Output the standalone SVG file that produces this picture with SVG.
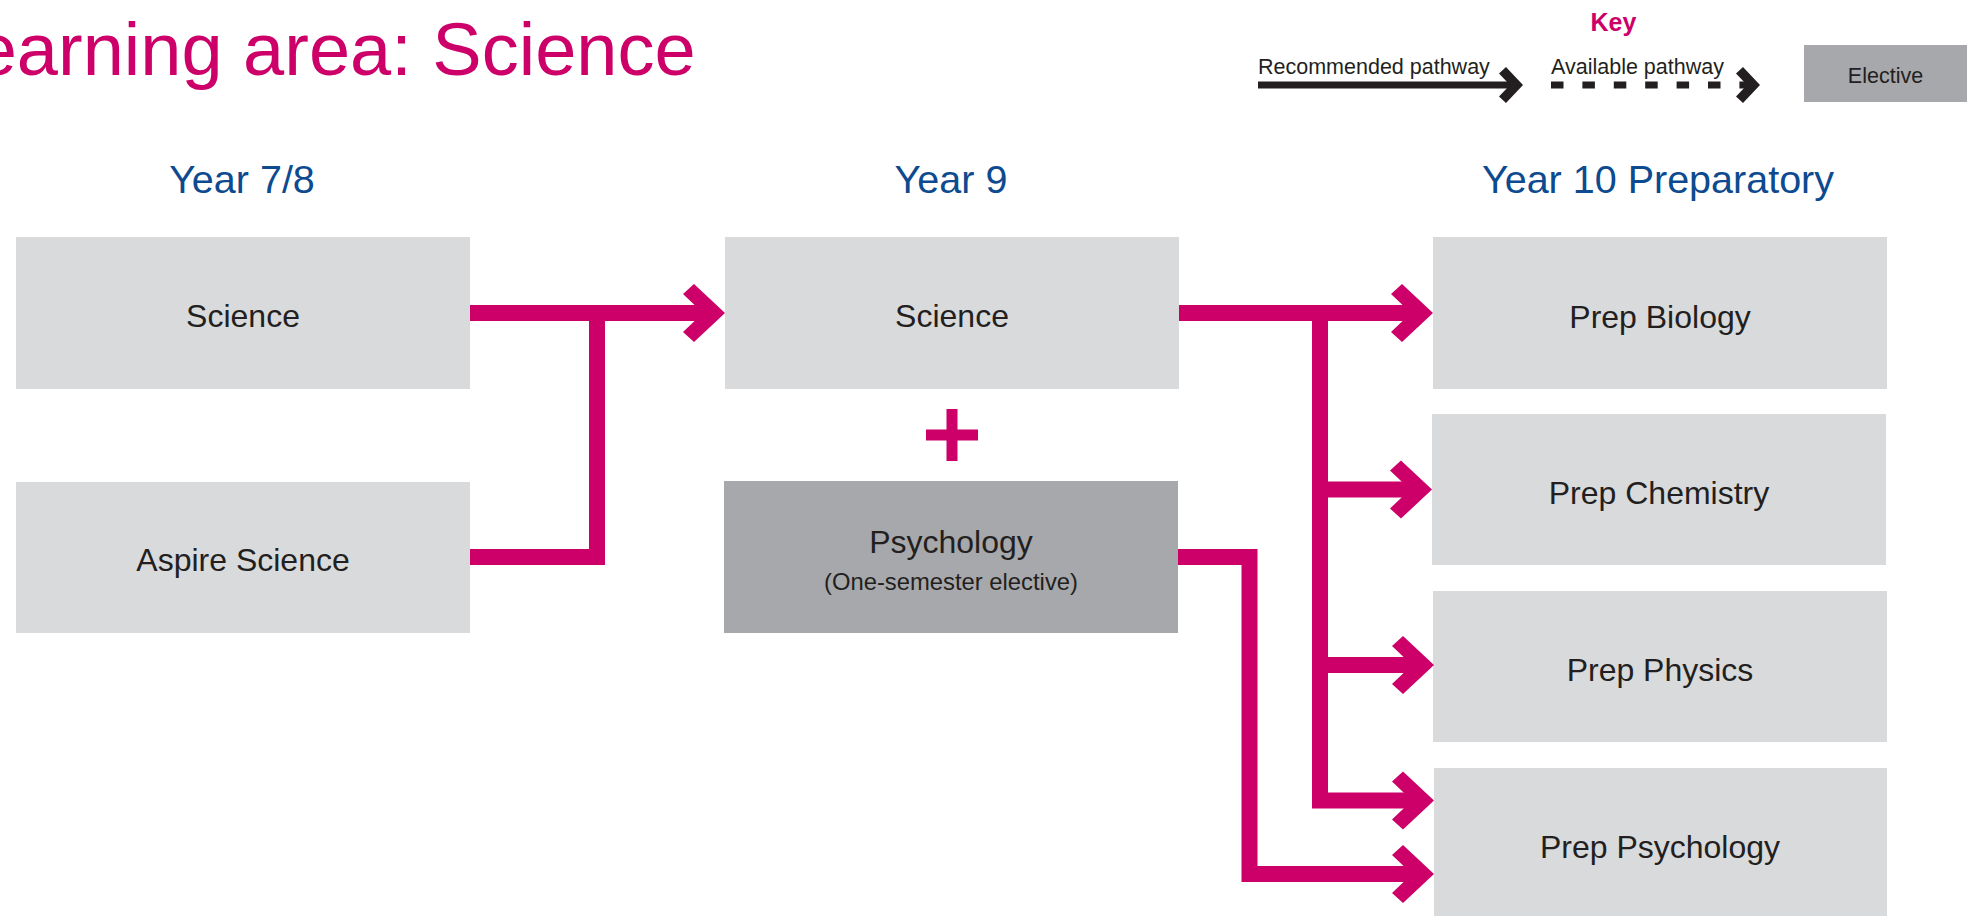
<svg xmlns="http://www.w3.org/2000/svg" xmlns:xlink="http://www.w3.org/1999/xlink" width="1975" height="916" viewBox="0 0 1975 916">
  <style>
    text { font-family: "Liberation Sans", Arial, Helvetica, sans-serif; }
    .title { font-size: 74px; fill: #cc0068; }
    .hdr { font-size: 39.5px; fill: #0d4a8f; text-anchor: middle; }
    .box { fill: #d9dadc; }
    .elective { fill: #a7a8ab; }
    .lbl { font-size: 32px; fill: #231f20; text-anchor: middle; }
    .sub { font-size: 23.8px; fill: #231f20; text-anchor: middle; }
    .key { font-size: 25px; font-weight: bold; fill: #cc0068; text-anchor: middle; }
    .klbl { font-size: 21.5px; fill: #231f20; }
    .conn { fill: none; stroke: #cc0068; stroke-width: 16; stroke-linejoin: miter; stroke-linecap: butt; }
    .kline { fill: none; stroke: #231f20; stroke-width: 7; stroke-linecap: butt; }
  </style>
  <defs>
    <marker id="arrow" markerUnits="userSpaceOnUse" viewBox="-44 -30 46 60" markerWidth="46" markerHeight="60" refX="-15" refY="0" orient="auto" overflow="visible">
      <path d="M0 0 L-31 -29 L-42 -19 L-22 0 L-42 19 L-31 29 Z" fill="#cc0068"/>
    </marker>
    <marker id="karrow" markerUnits="userSpaceOnUse" viewBox="-26 -20 28 40" markerWidth="28" markerHeight="40" refX="-8" refY="0" orient="auto" overflow="visible">
      <path d="M0 0 L-17 -18 L-24 -11.5 L-13 0 L-24 11.5 L-17 18 Z" fill="#231f20"/>
    </marker>
  </defs>

  <rect x="0" y="0" width="1975" height="916" fill="#ffffff"/>

  <text class="title" x="695.6" y="75" text-anchor="end">earning area: Science</text>

  <g id="legend">
    <text class="key" x="1613.5" y="30.5">Key</text>
    <text class="klbl" x="1258" y="74">Recommended pathway</text>
    <path class="kline" d="M1258 85 H1515" marker-end="url(#karrow)"/>
    <text class="klbl" x="1551" y="74">Available pathway</text>
    <path class="kline" d="M1551 85 H1752" stroke-dasharray="12.5 18.9" marker-end="url(#karrow)"/>
    <rect class="elective" x="1804" y="45" width="163" height="57"/>
    <text class="klbl" x="1885.5" y="83" text-anchor="middle">Elective</text>
  </g>

  <g id="headers">
    <text class="hdr" x="242" y="193">Year 7/8</text>
    <text class="hdr" x="951" y="193">Year 9</text>
    <text class="hdr" x="1658" y="193">Year 10 Preparatory</text>
  </g>

  <g id="n-y78-science">
    <rect class="box" x="16" y="237" width="454" height="152"/>
    <text class="lbl" x="243" y="327">Science</text>
  </g>
  <g id="n-y78-aspire">
    <rect class="box" x="16" y="482" width="454" height="151"/>
    <text class="lbl" x="243" y="571">Aspire Science</text>
  </g>
  <g id="n-y9-science">
    <rect class="box" x="725" y="237" width="454" height="152"/>
    <text class="lbl" x="952" y="327">Science</text>
  </g>
  <g id="plus">
    <rect x="946.5" y="409" width="11" height="52" fill="#cc0068"/>
    <rect x="926" y="429.5" width="52" height="11" fill="#cc0068"/>
  </g>
  <g id="n-y9-psychology">
    <rect class="elective" x="724" y="481" width="454" height="152"/>
    <text class="lbl" x="951" y="553">Psychology</text>
    <text class="sub" x="951" y="590">(One-semester elective)</text>
  </g>
  <g id="n-prep-biology">
    <rect class="box" x="1433" y="237" width="454" height="152"/>
    <text class="lbl" x="1660" y="328">Prep Biology</text>
  </g>
  <g id="n-prep-chemistry">
    <rect class="box" x="1432" y="414" width="454" height="151"/>
    <text class="lbl" x="1659" y="504">Prep Chemistry</text>
  </g>
  <g id="n-prep-physics">
    <rect class="box" x="1433" y="591" width="454" height="151"/>
    <text class="lbl" x="1660" y="681">Prep Physics</text>
  </g>
  <g id="n-prep-psychology">
    <rect class="box" x="1434" y="768" width="453" height="152"/>
    <text class="lbl" x="1660" y="858">Prep Psychology</text>
  </g>

  <g id="connectors">
    <path class="conn" d="M470 313 H710" marker-end="url(#arrow)"/>
    <path class="conn" d="M470 557 H597 V313"/>
    <path class="conn" d="M1179 313 H1418" marker-end="url(#arrow)"/>
    <path class="conn" d="M1320 313 V800.5 H1419" marker-end="url(#arrow)"/>
    <path class="conn" d="M1320 489.5 H1417" marker-end="url(#arrow)"/>
    <path class="conn" d="M1320 665 H1419" marker-end="url(#arrow)"/>
    <path class="conn" d="M1178 557 H1249.5 V874 H1419" marker-end="url(#arrow)"/>
  </g>
</svg>
